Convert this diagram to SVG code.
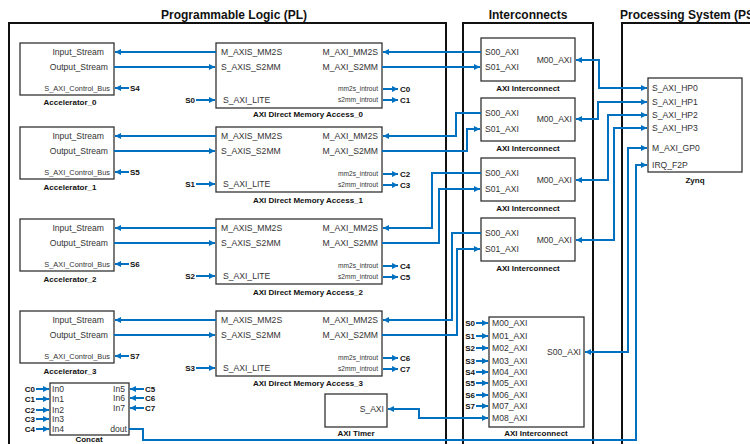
<svg xmlns="http://www.w3.org/2000/svg" width="750" height="444" viewBox="0 0 750 444">
<defs>
<marker id="ah" viewBox="0 0 8 8" refX="8" refY="4" markerWidth="7" markerHeight="6" markerUnits="userSpaceOnUse" orient="auto-start-reverse"><path d="M0,0 L8,4 L0,8 z" fill="#0070C0"/></marker>
<style>
.panel{fill:none;stroke:#111;stroke-width:2}
.box{fill:#fff;stroke:#333;stroke-width:1.3}
.t{font-family:"Liberation Sans",Arial,sans-serif;font-size:8.6px;fill:#333}
.ts{font-family:"Liberation Sans",Arial,sans-serif;font-size:7.4px;fill:#333}
.tx{font-family:"Liberation Sans",Arial,sans-serif;font-size:6.6px;fill:#333}
.lb{font-family:"Liberation Sans",Arial,sans-serif;font-size:8px;font-weight:bold;fill:#111}
.sig{font-family:"Liberation Sans",Arial,sans-serif;font-size:8px;font-weight:bold;fill:#111}
.title{font-family:"Liberation Sans",Arial,sans-serif;font-size:12px;font-weight:bold;fill:#111}
.e{text-anchor:end}
.m{text-anchor:middle}
.w{fill:none;stroke:#0070C0;stroke-width:2}
.a{marker-end:url(#ah)}
.b{marker-start:url(#ah);marker-end:url(#ah)}
</style>
</defs>
<rect width="750" height="444" fill="#fff"/>

<g id="panels">
<rect class="panel" x="9" y="23" width="437" height="440"/>
<rect class="panel" x="463" y="23" width="130" height="440"/>
<rect class="panel" x="622" y="23" width="150" height="440"/>
<text class="title m" x="234" y="19">Programmable Logic (PL)</text>
<text class="title m" x="528" y="19">Interconnects</text>
<text class="title" x="620" y="19">Processing System (PS)</text>
</g>

<g id="acc0"><rect class="box" x="20" y="43" width="94" height="52"/>
<text class="t e" x="104" y="55">Input_Stream</text><text class="t e" x="108" y="70">Output_Stream</text><text class="ts e" x="110" y="91">S_AXI_Control_Bus</text>
<text class="lb m" x="70" y="105">Accelerator_0</text></g>
<g id="acc1"><rect class="box" x="20" y="127" width="94" height="52"/>
<text class="t e" x="104" y="139">Input_Stream</text><text class="t e" x="108" y="154">Output_Stream</text><text class="ts e" x="110" y="175">S_AXI_Control_Bus</text>
<text class="lb m" x="70" y="190">Accelerator_1</text></g>
<g id="acc2"><rect class="box" x="20" y="219" width="94" height="52"/>
<text class="t e" x="104" y="231">Input_Stream</text><text class="t e" x="108" y="246">Output_Stream</text><text class="ts e" x="110" y="267">S_AXI_Control_Bus</text>
<text class="lb m" x="70" y="282">Accelerator_2</text></g>
<g id="acc3"><rect class="box" x="20" y="311" width="94" height="52"/>
<text class="t e" x="104" y="323">Input_Stream</text><text class="t e" x="108" y="338">Output_Stream</text><text class="ts e" x="110" y="359">S_AXI_Control_Bus</text>
<text class="lb m" x="70" y="374">Accelerator_3</text></g>

<g id="dma0"><rect class="box" x="216" y="43" width="166" height="65"/>
<text class="t" x="221" y="55">M_AXIS_MM2S</text><text class="t" x="221" y="70">S_AXIS_S2MM</text><text class="t" x="223" y="103">S_AXI_LITE</text>
<text class="t e" x="378" y="55">M_AXI_MM2S</text><text class="t e" x="378" y="70">M_AXI_S2MM</text>
<text class="tx e" x="378" y="91">mm2s_introut</text><text class="tx e" x="378" y="102">s2mm_introut</text>
<text class="lb m" x="308" y="117">AXI Direct Memory Access_0</text></g>
<g id="dma1"><rect class="box" x="216" y="127" width="166" height="65"/>
<text class="t" x="221" y="139">M_AXIS_MM2S</text><text class="t" x="221" y="154">S_AXIS_S2MM</text><text class="t" x="223" y="187">S_AXI_LITE</text>
<text class="t e" x="378" y="139">M_AXI_MM2S</text><text class="t e" x="378" y="154">M_AXI_S2MM</text>
<text class="tx e" x="378" y="176">mm2s_introut</text><text class="tx e" x="378" y="187">s2mm_introut</text>
<text class="lb m" x="308" y="203">AXI Direct Memory Access_1</text></g>
<g id="dma2"><rect class="box" x="216" y="219" width="166" height="65"/>
<text class="t" x="221" y="231">M_AXIS_MM2S</text><text class="t" x="221" y="246">S_AXIS_S2MM</text><text class="t" x="223" y="279">S_AXI_LITE</text>
<text class="t e" x="378" y="231">M_AXI_MM2S</text><text class="t e" x="378" y="246">M_AXI_S2MM</text>
<text class="tx e" x="378" y="268">mm2s_introut</text><text class="tx e" x="378" y="279">s2mm_introut</text>
<text class="lb m" x="308" y="295">AXI Direct Memory Access_2</text></g>
<g id="dma3"><rect class="box" x="216" y="311" width="166" height="65"/>
<text class="t" x="221" y="323">M_AXIS_MM2S</text><text class="t" x="221" y="338">S_AXIS_S2MM</text><text class="t" x="223" y="371">S_AXI_LITE</text>
<text class="t e" x="378" y="323">M_AXI_MM2S</text><text class="t e" x="378" y="338">M_AXI_S2MM</text>
<text class="tx e" x="378" y="360">mm2s_introut</text><text class="tx e" x="378" y="371">s2mm_introut</text>
<text class="lb m" x="308" y="386">AXI Direct Memory Access_3</text></g>

<g id="ic0"><rect class="box" x="481" y="38" width="94" height="43"/>
<text class="t" x="485" y="55">S00_AXI</text><text class="t" x="485" y="70">S01_AXI</text><text class="t e" x="572" y="63">M00_AXI</text>
<text class="lb m" x="528" y="91">AXI Interconnect</text></g>
<g id="ic1"><rect class="box" x="481" y="98" width="94" height="43"/>
<text class="t" x="485" y="116">S00_AXI</text><text class="t" x="485" y="132">S01_AXI</text><text class="t e" x="572" y="122">M00_AXI</text>
<text class="lb m" x="528" y="151">AXI Interconnect</text></g>
<g id="ic2"><rect class="box" x="481" y="158" width="94" height="43"/>
<text class="t" x="485" y="176">S00_AXI</text><text class="t" x="485" y="192">S01_AXI</text><text class="t e" x="572" y="183">M00_AXI</text>
<text class="lb m" x="528" y="211">AXI Interconnect</text></g>
<g id="ic3"><rect class="box" x="481" y="218" width="94" height="43"/>
<text class="t" x="485" y="236">S00_AXI</text><text class="t" x="485" y="252">S01_AXI</text><text class="t e" x="572" y="243">M00_AXI</text>
<text class="lb m" x="528" y="271">AXI Interconnect</text></g>

<g id="ic4"><rect class="box" x="489" y="317" width="95" height="110"/>
<text class="t" x="492" y="326">M00_AXI</text><text class="t" x="492" y="339">M01_AXI</text><text class="t" x="492" y="351">M02_AXI</text>
<text class="t" x="492" y="364">M03_AXI</text><text class="t" x="492" y="375">M04_AXI</text><text class="t" x="492" y="386">M05_AXI</text>
<text class="t" x="492" y="398">M06_AXI</text><text class="t" x="492" y="409">M07_AXI</text><text class="t" x="492" y="421">M08_AXI</text>
<text class="t e" x="581" y="355">S00_AXI</text>
<text class="lb m" x="536" y="436">AXI Interconnect</text></g>

<g id="timer"><rect class="box" x="325" y="394" width="62" height="33"/>
<text class="t e" x="384" y="412">S_AXI</text>
<text class="lb m" x="356" y="436">AXI Timer</text></g>

<g id="concat"><rect class="box" x="50" y="383" width="79" height="52"/>
<text class="t" x="52" y="392">In0</text><text class="t" x="52" y="402">In1</text><text class="t" x="52" y="413">In2</text>
<text class="t" x="52" y="422">In3</text><text class="t" x="52" y="432">In4</text>
<text class="t e" x="125" y="392">In5</text><text class="t e" x="125" y="401">In6</text><text class="t e" x="125" y="411">In7</text>
<text class="t e" x="127" y="432">dout</text>
<text class="lb m" x="89" y="442">Concat</text></g>

<g id="zynq"><rect class="box" x="648" y="78" width="94" height="94"/>
<text class="t" x="652" y="91">S_AXI_HP0</text><text class="t" x="652" y="105">S_AXI_HP1</text><text class="t" x="652" y="118">S_AXI_HP2</text>
<text class="t" x="652" y="131">S_AXI_HP3</text><text class="t" x="652" y="151">M_AXI_GP0</text><text class="t" x="652" y="168">IRQ_F2P</text>
<text class="lb m" x="695" y="183">Zynq</text></g>

<g id="signal-labels">
<text class="sig" x="130" y="91">S4</text><text class="sig" x="130" y="175">S5</text><text class="sig" x="130" y="267">S6</text><text class="sig" x="130" y="359">S7</text>
<text class="sig e" x="195" y="103">S0</text><text class="sig e" x="195" y="187">S1</text><text class="sig e" x="195" y="279">S2</text><text class="sig e" x="195" y="371">S3</text>
<text class="sig" x="400" y="92">C0</text><text class="sig" x="400" y="103">C1</text>
<text class="sig" x="400" y="177">C2</text><text class="sig" x="400" y="188">C3</text>
<text class="sig" x="400" y="269">C4</text><text class="sig" x="400" y="280">C5</text>
<text class="sig" x="400" y="361">C6</text><text class="sig" x="400" y="372">C7</text>
<text class="sig e" x="35" y="392">C0</text><text class="sig e" x="35" y="402">C1</text><text class="sig e" x="35" y="413">C2</text>
<text class="sig e" x="35" y="422">C3</text><text class="sig e" x="35" y="432">C4</text>
<text class="sig" x="145" y="392">C5</text><text class="sig" x="145" y="401">C6</text><text class="sig" x="145" y="411">C7</text>
<text class="sig e" x="475" y="326">S0</text><text class="sig e" x="475" y="339">S1</text><text class="sig e" x="475" y="351">S2</text>
<text class="sig e" x="475" y="364">S3</text><text class="sig e" x="475" y="375">S4</text><text class="sig e" x="475" y="386">S5</text>
<text class="sig e" x="475" y="398">S6</text><text class="sig e" x="475" y="409">S7</text>
</g>

<g id="connectors">
<path class="w a" d="M216,52 H115"/><path class="w a" d="M114,67 H215"/>
<path class="w a" d="M216,136 H115"/><path class="w a" d="M114,151 H215"/>
<path class="w a" d="M216,228 H115"/><path class="w a" d="M114,243 H215"/>
<path class="w a" d="M216,320 H115"/><path class="w a" d="M114,335 H215"/>
<path class="w a" d="M129,88 H115"/><path class="w a" d="M129,172 H115"/><path class="w a" d="M129,264 H115"/><path class="w a" d="M129,356 H115"/>
<path class="w a" d="M196,100 H215"/><path class="w a" d="M196,184 H215"/><path class="w a" d="M196,276 H215"/><path class="w a" d="M196,368 H215"/>
<path class="w a" d="M383,89 H398"/><path class="w a" d="M383,100 H398"/>
<path class="w a" d="M383,174 H398"/><path class="w a" d="M383,185 H398"/>
<path class="w a" d="M383,266 H398"/><path class="w a" d="M383,277 H398"/>
<path class="w a" d="M383,358 H398"/><path class="w a" d="M383,369 H398"/>
<path class="w a" d="M481,52 H383"/><path class="w a" d="M382,67 H480"/>
<path class="w a" d="M481,113 H456 V136 H383"/><path class="w a" d="M382,151 H467 V129 H480"/>
<path class="w a" d="M481,173 H432 V228 H383"/><path class="w a" d="M382,243 H439 V189 H480"/>
<path class="w a" d="M481,233 H452 V320 H383"/><path class="w a" d="M382,335 H457 V249 H480"/>
<path class="w b" d="M576,60 H599 V88 H647"/>
<path class="w b" d="M576,119 H598 V102 H647"/>
<path class="w b" d="M576,180 H608 V115 H647"/>
<path class="w b" d="M576,240 H614 V128 H647"/>
<path class="w b" d="M647,148 H628 V352 H585"/>
<path class="w a" d="M129,429 H143 V440 H636 V165 H647"/>
<path class="w b" d="M388,409 H419 V418 H488"/>
<path class="w a" d="M36,389 H49"/><path class="w a" d="M36,399 H49"/><path class="w a" d="M36,410 H49"/><path class="w a" d="M36,419 H49"/><path class="w a" d="M36,429 H49"/>
<path class="w a" d="M144,389 H130"/><path class="w a" d="M144,398 H130"/><path class="w a" d="M144,408 H130"/>
<path class="w a" d="M476,323 H488"/><path class="w a" d="M476,336 H488"/><path class="w a" d="M476,348 H488"/><path class="w a" d="M476,361 H488"/>
<path class="w a" d="M476,372 H488"/><path class="w a" d="M476,383 H488"/><path class="w a" d="M476,395 H488"/><path class="w a" d="M476,406 H488"/>
</g>
</svg>
